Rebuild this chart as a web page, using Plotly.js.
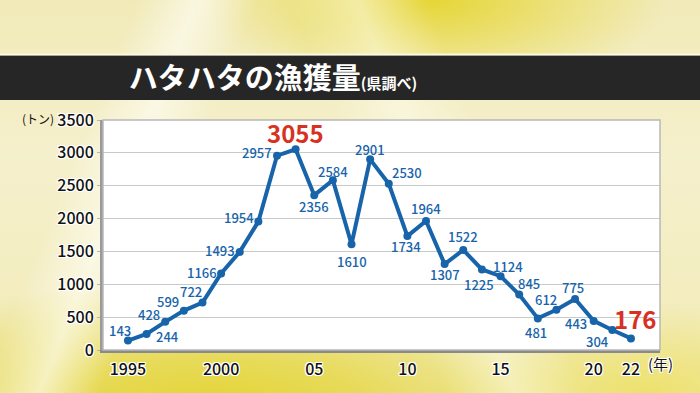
<!DOCTYPE html>
<html>
<head>
<meta charset="utf-8">
<script src="https://cdn.plot.ly/plotly-3.0.1.min.js"></script>
<style>
  html, body { margin: 0; padding: 0; }
  #bg {
    position: absolute; left: 0; top: 0; width: 700px; height: 393px;
    background:
      linear-gradient(112deg, rgba(255,255,255,0) 16%, rgba(255,255,250,0.6) 23%, rgba(255,255,255,0) 30%),
      linear-gradient(68deg, rgba(255,255,255,0) 52%, rgba(255,255,245,0.45) 60%, rgba(255,255,255,0) 68%),
      radial-gradient(ellipse 230px 95px at 62% 0%, rgba(230,214,55,1) 0%, rgba(230,214,55,0.5) 50%, rgba(230,214,55,0) 100%),
      radial-gradient(ellipse 380px 150px at 30% 108%, rgba(226,210,40,1) 0%, rgba(226,210,40,0.65) 45%, rgba(226,210,40,0) 100%),
      radial-gradient(ellipse 220px 90px at 92% 100%, rgba(236,224,95,0.85) 0%, rgba(236,224,95,0) 100%),
      linear-gradient(180deg, #f1eab8 0%, #f5f0cc 40%, #f1eab6 100%);
  }
  #chart { position: absolute; left: 0; top: 0; width: 700px; height: 393px; }
</style>
</head>
<body>
<div id="bg"></div>
<div id="chart"></div>
<script>
// ---- data ----
const years = [1995,1996,1997,1998,1999,2000,2001,2002,2003,2004,2005,2006,2007,2008,2009,2010,2011,2012,2013,2014,2015,2016,2017,2018,2019,2020,2021,2022];
const catch_t = [143,244,428,599,722,1166,1493,1954,2957,3055,2356,2584,1610,2901,2530,1734,1964,1307,1522,1225,1124,845,481,612,775,443,304,176];
const xTickVals = [1995,2000,2005,2010,2015,2020,2022];
const xTickText = ['1995','2000','05','10','15','20','22'];
const highlightYears = [2004,2022];

// ---- label placement (screen px offsets: dx right, dy down) ----
const labelOffsets = [
  [-8,-10],[21,3],[-16,-7],[-16,-9],[-11,-11],[-19,-1],[-20,-1],[-19,-4],[-20,-3],[0,-17],
  [0,11],[0,-9],[0,17],[0,-10],[18,-11],[-1,10],[0,-12],[0,10],[0,-13],[-3,15],
  [7,-10],[10,-11],[-2,14],[-10,-10],[-2,-12],[-18,3],[-15,11],[4,-20]
];

const BLUE = '#1864ab';
const RED = '#d8311f';
const FONT = '"Noto Sans CJK JP", "Noto Sans", sans-serif';
const outline = '1px 1px 0 #fff, -1px -1px 0 #fff, 1px -1px 0 #fff, -1px 1px 0 #fff, 0 1px 0 #fff, 0 -1px 0 #fff, 1px 0 0 #fff, -1px 0 0 #fff';

const annotations = years.map((yr, i) => {
  const hi = highlightYears.includes(yr);
  return {
    x: yr, y: catch_t[i], xref: 'x', yref: 'y',
    text: String(catch_t[i]), showarrow: false,
    xshift: labelOffsets[i][0], yshift: -labelOffsets[i][1],
    font: hi ? {family: FONT, size: 24, color: RED, weight: 700}
             : {family: FONT, size: 13, color: BLUE, weight: 500}
  };
});

annotations.push({
  xref: 'paper', yref: 'paper', x: -0.117, y: 1.005, xanchor: 'center', yanchor: 'middle',
  text: '(トン)', showarrow: false, font: {family: FONT, size: 12, color: '#111'}
});
annotations.push({
  xref: 'paper', yref: 'paper', x: 1.0, y: -0.057, xanchor: 'center', yanchor: 'middle',
  text: '(年)', showarrow: false, font: {family: FONT, size: 15, color: '#111', shadow: outline}
});

const trace = {
  x: years, y: catch_t, type: 'scatter', mode: 'lines+markers',
  line: {color: BLUE, width: 4},
  marker: {color: BLUE, size: 8},
  hoverinfo: 'x+y'
};

const layout = {
  width: 700, height: 393,
  margin: {l: 103, r: 40, t: 120, b: 43},
  paper_bgcolor: 'rgba(0,0,0,0)',
  plot_bgcolor: '#ffffff',
  showlegend: false,
  title: {
    text: 'ハタハタの漁獲量<span style="font-size:15px">(県調べ)</span>',
    x: 273/700, xanchor: 'center', xref: 'container',
    y: 1 - 79/393, yanchor: 'middle', yref: 'container',
    font: {family: FONT, size: 29, color: '#ffffff', weight: 700}
  },
  xaxis: {
    range: [1993.66, 2023.56],
    tickvals: xTickVals, ticktext: xTickText,
    showgrid: false, zeroline: false,
    showline: true, linecolor: '#8a8a8a', linewidth: 3,
    ticks: '', ticklabelstandoff: 3,
    tickfont: {family: FONT, size: 16, color: '#111', weight: 500, shadow: outline},
    fixedrange: true
  },
  yaxis: {
    range: [0, 3500], dtick: 500,
    showgrid: true, gridcolor: '#c9c9c9', gridwidth: 1,
    zeroline: false,
    showline: true, linecolor: '#9a9a9a', linewidth: 3,
    ticks: 'outside', ticklen: 3, tickcolor: '#b5b5b5', tickwidth: 1,
    tickfont: {family: FONT, size: 16, color: '#111', weight: 500, shadow: outline},
    fixedrange: true
  },
  shapes: [
    {type: 'rect', xref: 'paper', yref: 'paper', x0: -0.3, x1: 1.3, y0: 1.087, y1: 1.281,
     fillcolor: '#262626', line: {width: 0}, layer: 'below'},
    {type: 'line', xref: 'paper', yref: 'paper', x0: -0.3, x1: 1.3, y0: 1.285, y1: 1.285,
     line: {color: '#fbf8e2', width: 2}, layer: 'below'},
    {type: 'rect', xref: 'paper', yref: 'paper', x0: 0, x1: 1, y0: 0, y1: 1,
     line: {color: '#b8b8b8', width: 1.5}, layer: 'above'}
  ],
  annotations: annotations
};

Plotly.newPlot('chart', [trace], layout, {displayModeBar: false, staticPlot: true});
</script>
</body>
</html>
